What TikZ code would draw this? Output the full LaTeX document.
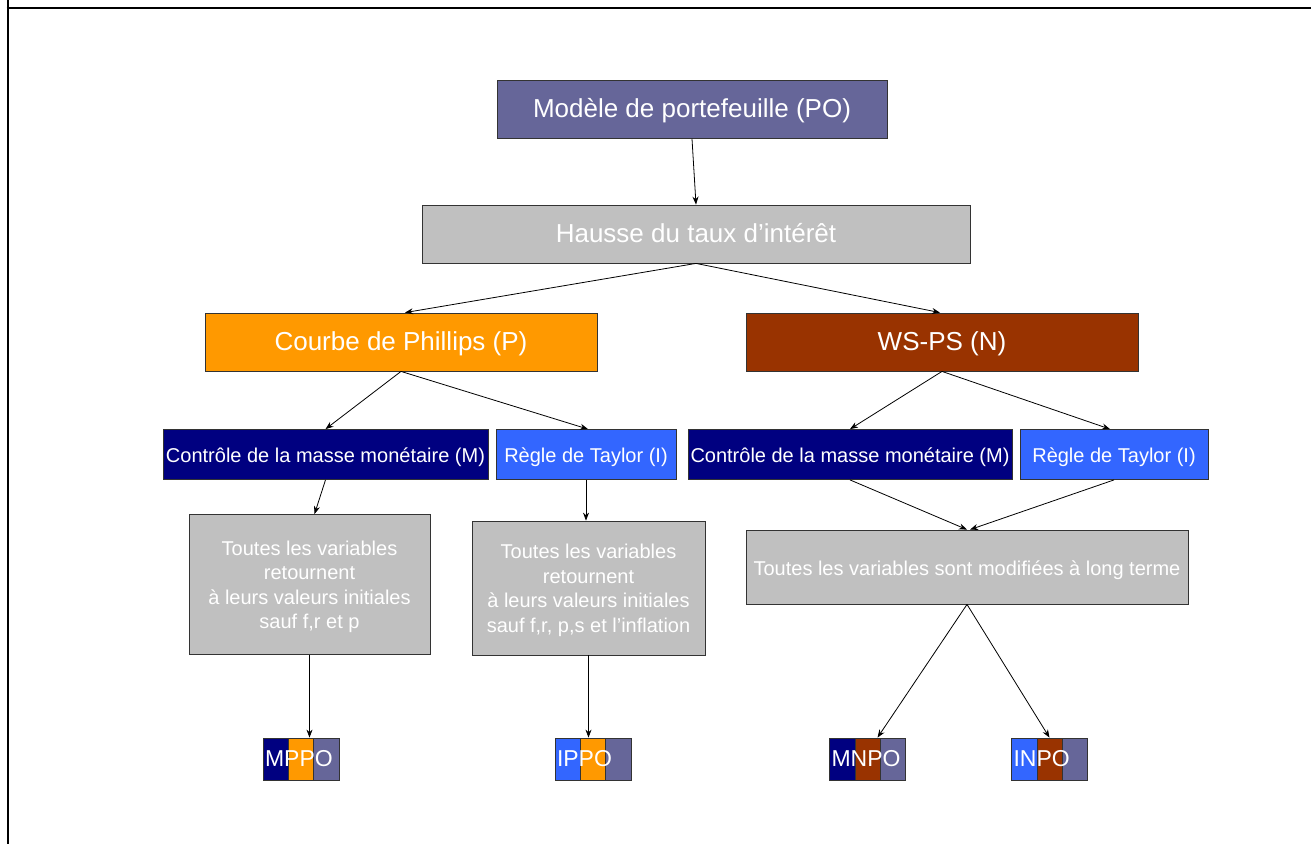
\documentclass[tikz,border=0pt]{standalone}
\usepackage{fontspec}
\setmainfont{Liberation Sans}
\usetikzlibrary{arrows.meta,calc}
\definecolor{colpo}{HTML}{666699}
\definecolor{colgray}{HTML}{C0C0C0}
\definecolor{colphil}{HTML}{FF9900}
\definecolor{colws}{HTML}{993300}
\definecolor{colm}{HTML}{000080}
\definecolor{coli}{HTML}{3366FF}
\newcommand{\firststrut}{\rule{0pt}{19pt}}
\tikzset{
  box/.style={draw=black!80, line width=0.8pt, inner sep=0pt, text=white, align=center},
  bigtxt/.style={font=\fontsize{26}{30}\selectfont, text height=20pt, text depth=4pt},
  midtxt/.style={font=\fontsize{20}{24.5}\selectfont, text height=19pt, text depth=3pt},
  multitxt/.style={font=\fontsize{20}{24.5}\selectfont},
  smalltxt/.style={font=\fontsize{23}{26}\selectfont, text height=18pt, text depth=3pt,
                   text width=72pt, align=left, minimum width=76pt, minimum height=42pt},
  conn/.style={draw=black, line width=0.8pt, -{Stealth[length=8pt,width=6pt]}},
  sep/.style={draw=black!80, line width=0.8pt},
  frameline/.style={line width=2pt, black}
}
\begin{document}
\begin{tikzpicture}[x=1pt,y=-1pt]
\useasboundingbox (0,0) rectangle (1311,844);
\draw[frameline] (7.5,0) -- (7.5,844);
\draw[frameline] (6.5,7.5) -- (1311,7.5);

\node[box,bigtxt,fill=colpo,minimum width=390pt,minimum height=58pt] (po) at (692,109.5) {Modèle de portefeuille (PO)};
\node[box,bigtxt,fill=colgray,minimum width=548pt,minimum height=58pt] (hausse) at (696,234) {Hausse du taux d’intérêt};
\node[box,bigtxt,fill=colphil,minimum width=392pt,minimum height=58pt] (phil) at (401,342) {Courbe de Phillips (P)};
\node[box,bigtxt,fill=colws,minimum width=392pt,minimum height=58pt] (ws) at (942,342) {WS-PS (N)};

\node[box,midtxt,fill=colm,minimum width=325pt,minimum height=50pt] (ml) at (325.5,454.5) {Contrôle de la masse monétaire (M)};
\node[box,midtxt,fill=coli,minimum width=180pt,minimum height=50pt] (il) at (586,454.5) {Règle de Taylor (I)};
\node[box,midtxt,fill=colm,minimum width=324pt,minimum height=50pt] (mr) at (850,454.5) {Contrôle de la masse monétaire (M)};
\node[box,midtxt,fill=coli,minimum width=188pt,minimum height=50pt] (ir) at (1114,454.5) {Règle de Taylor (I)};

\node[box,multitxt,fill=colgray,minimum width=241pt,minimum height=140pt] (g1) at (309.5,584.5) {\firststrut Toutes les variables\\retournent\\à leurs valeurs initiales\\sauf f,r et p};
\node[box,multitxt,fill=colgray,minimum width=233pt,minimum height=134pt] (g2) at (588.5,588) {\firststrut Toutes les variables\\retournent\\à leurs valeurs initiales\\sauf f,r, p,s et l’inflation};
\node[box,midtxt,fill=colgray,minimum width=442pt,minimum height=74pt] (g3) at (967,567) {Toutes les variables sont modifiées à long terme};

% small striped boxes
\fill[colm] (263,738) rectangle (288.3,780);
\fill[colphil] (288.3,738) rectangle (313.6,780);
\fill[colpo] (313.6,738) rectangle (339,780);
\draw[sep] (288.3,738) -- (288.3,780) (313.6,738) -- (313.6,780);
\node[box,smalltxt] (mppo) at (301,759) {MPPO};

\fill[coli] (555,738) rectangle (580.3,780);
\fill[colphil] (580.3,738) rectangle (605.6,780);
\fill[colpo] (605.6,738) rectangle (631,780);
\draw[sep] (580.3,738) -- (580.3,780) (605.6,738) -- (605.6,780);
\node[box,smalltxt] (ippo) at (593,759) {IPPO};

\fill[colm] (830,738) rectangle (855,780);
\fill[colws] (855,738) rectangle (880,780);
\fill[colpo] (880,738) rectangle (905,780);
\draw[sep] (855,738) -- (855,780) (880,738) -- (880,780);
\node[box,smalltxt] (mnpo) at (867.5,759) {MNPO};

\fill[coli] (1012,738) rectangle (1037,780);
\fill[colws] (1037,738) rectangle (1062,780);
\fill[colpo] (1062,738) rectangle (1087,780);
\draw[sep] (1037,738) -- (1037,780) (1062,738) -- (1062,780);
\node[box,smalltxt] (inpo) at (1049.5,759) {INPO};

% connectors
\draw[conn] (po.south) -- (hausse.north);
\draw[conn] (hausse.south) -- ([xshift=4pt]phil.north);
\draw[conn] (hausse.south) -- ([xshift=-2pt]ws.north);
\draw[conn] (phil.south) -- (ml.north);
\draw[conn] (phil.south) -- ([xshift=2pt]il.north);
\draw[conn] (ws.south) -- (mr.north);
\draw[conn] (ws.south) -- ([xshift=-4pt]ir.north);
\draw[conn] (ml.south) -- ([xshift=5pt]g1.north);
\draw[conn] (il.south) -- (il.south |- g2.north);
\draw[conn] (mr.south) -- (g3.north);
\draw[conn] (ir.south) -- ([xshift=3pt]g3.north);
\draw[conn] (g1.south) -- (g1.south |- mppo.north);
\draw[conn] (g2.south) -- (g2.south |- ippo.north);
\draw[conn] (g3.south) -- ([xshift=10pt]mnpo.north);
\draw[conn] (g3.south) -- (inpo.north);
\end{tikzpicture}
\end{document}
